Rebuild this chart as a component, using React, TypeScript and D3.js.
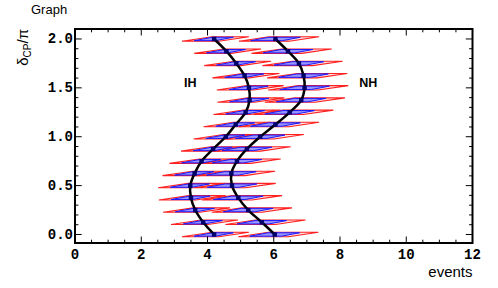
import React from 'react';
import * as d3 from 'd3';

const deltaCP = [0, 0.125, 0.25, 0.375, 0.5, 0.625, 0.75, 0.875, 1.0, 1.125, 1.25, 1.375, 1.5, 1.625, 1.75, 1.875, 2.0];
const ihEvents = [4.2, 3.87, 3.63, 3.5, 3.48, 3.61, 3.82, 4.17, 4.55, 4.85, 5.15, 5.27, 5.25, 5.12, 4.87, 4.57, 4.2];
const nhEvents = [6.03, 5.64, 5.23, 4.93, 4.74, 4.72, 4.89, 5.19, 5.59, 6.05, 6.48, 6.83, 6.93, 6.9, 6.76, 6.43, 6.05];
// [IH, NH] error extents (events)
const innerErrLo = [0.6, 0.75];
const innerErrHi = [0.58, 0.75];
const outerErrLo = [0.97, 1.1];
const outerErrHi = [1.05, 1.32];
const xTicks = [0, 2, 4, 6, 8, 10, 12];
const yTicks = [0, 0.5, 1.0, 1.5, 2.0];
const hierarchyLabels = ['IH', 'NH'];

const W = 498, H = 288;
const L = 75, R = 472.5, T = 29, B = 243;

export default function App() {
  const x = d3.scaleLinear().domain([0, 12]).range([L, R]);
  const y = d3.scaleLinear().domain([-0.087, 2.102]).range([B, T]);
  const series = [ihEvents, nhEvents];

  const para = (xc: number, yc: number, lo: number, hi: number, h: number, k: number) => {
    const xL = x(xc - lo), xR = x(xc + hi), yp = y(yc);
    return `M${xL},${yp + h}L${xL + k},${yp - h}L${xR},${yp - h}L${xR - k},${yp + h}Z`;
  };

  const line = d3.line<[number, number]>()
    .x(d => x(d[0]))
    .y(d => y(d[1]))
    .curve(d3.curveCatmullRom.alpha(0.5));

  const xMinor = d3.range(0, 12.001, 0.5);
  const yMinor = d3.range(0, 2.101, 0.1).filter(v => y(v) >= T - 0.5);

  const monoFont = '"Liberation Mono", "DejaVu Sans Mono", monospace';
  const sans = '"Liberation Sans", Arial, sans-serif';

  return (
    <svg width={W} height={H} style={{ position: 'fixed', left: 0, top: 0, background: '#fff' }}>
      <rect x={0} y={0} width={W} height={H} fill="#fff" />
      <text x={31} y={14} fontFamily={sans} fontSize={13} fill="#000">Graph</text>

      {/* outer (red) shapes */}
      {series.map((s, si) => s.map((v, i) => (
        <path key={`r${si}-${i}`} d={para(v, deltaCP[i], outerErrLo[si], outerErrHi[si], 2.2, 30)}
          fill="#ffd6d6" fillOpacity={0.8} stroke="#ff2020" strokeWidth={1.1} />
      )))}
      {/* inner (blue) shapes */}
      {series.map((s, si) => s.map((v, i) => (
        <path key={`b${si}-${i}`} d={para(v, deltaCP[i], innerErrLo[si], innerErrHi[si], 1.7, 18)}
          fill="#8c8cff" fillOpacity={0.9} stroke="#1a1aff" strokeWidth={1} />
      )))}
      {/* curves */}
      {series.map((s, si) => (
        <path key={`l${si}`} d={line(s.map((v, i) => [v, deltaCP[i]] as [number, number])) || ''}
          fill="none" stroke="#000" strokeWidth={2.5} />
      ))}
      {series.map((s, si) => s.map((v, i) => (
        <rect key={`m${si}-${i}`} x={x(v) - 2.2} y={y(deltaCP[i]) - 2.2} width={4.4} height={4.4} fill="#00006a" />
      )))}

      {/* labels IH / NH */}
      <text x={x(3.29)} y={y(1.51)} fontFamily={sans} fontWeight="bold" fontSize={12.5}>{hierarchyLabels[0]}</text>
      <text x={x(8.58)} y={y(1.51)} fontFamily={sans} fontWeight="bold" fontSize={12.5}>{hierarchyLabels[1]}</text>

      {/* ticks */}
      {xMinor.map(v => {
        const major = xTicks.includes(v);
        const len = major ? 6.5 : 3.3;
        return (
          <g key={`xt${v}`}>
            <line x1={x(v)} x2={x(v)} y1={B} y2={B - len} stroke="#000" strokeWidth={1} />
            <line x1={x(v)} x2={x(v)} y1={T} y2={T + len} stroke="#000" strokeWidth={1} />
          </g>
        );
      })}
      {yMinor.map(v => {
        const major = yTicks.some(t => Math.abs(t - v) < 1e-6);
        const len = major ? 6.7 : 3.4;
        return (
          <g key={`yt${v}`}>
            <line x1={L} x2={L + len} y1={y(v)} y2={y(v)} stroke="#000" strokeWidth={1} />
            <line x1={R} x2={R - len} y1={y(v)} y2={y(v)} stroke="#000" strokeWidth={1} />
          </g>
        );
      })}

      {/* frame */}
      <rect x={L} y={T} width={R - L} height={B - T} fill="none" stroke="#000" strokeWidth={2} />

      {/* tick labels */}
      {xTicks.map(v => (
        <text key={`xl${v}`} x={x(v)} y={259} textAnchor="middle" fontFamily={monoFont} fontWeight="bold" fontSize={14}>{v}</text>
      ))}
      {yTicks.map(v => (
        <text key={`yl${v}`} x={73} y={y(v) + 4.5} textAnchor="end" fontFamily={monoFont} fontWeight="bold" fontSize={14}>{v.toFixed(1)}</text>
      ))}

      {/* axis titles */}
      <text x={R} y={277} textAnchor="end" fontFamily={sans} fontSize={15}>events</text>
      <text transform={`translate(28, ${T}) rotate(-90)`} textAnchor="end" fontFamily={sans} fontSize={15}>
        δ<tspan fontSize={10} dy={3}>CP</tspan><tspan dy={-3}>/π</tspan>
      </text>
    </svg>
  );
}
